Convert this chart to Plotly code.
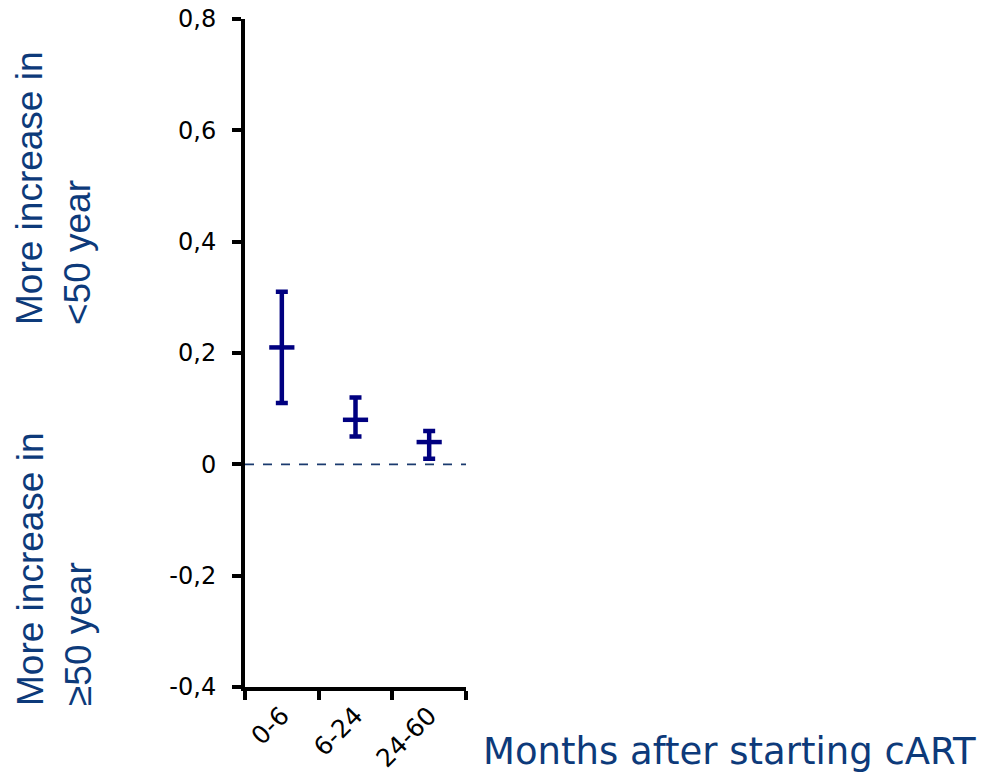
import plotly.graph_objects as go

categories = ["0-6", "6-24", "24-60"]
means = [0.21, 0.08, 0.04]
upper = [0.31, 0.12, 0.06]
lower = [0.11, 0.05, 0.01]
ytick_vals = [-0.4, -0.2, 0, 0.2, 0.4, 0.6, 0.8]
ytick_text = ["-0,4", "-0,2", "0", "0,2", "0,4", "0,6", "0,8"]

xpos = list(range(len(categories)))
err_plus = [u - m for u, m in zip(upper, means)]
err_minus = [m - l for m, l in zip(means, lower)]

NAVY = "#000080"
TITLE_BLUE = "#0d3a7a"

L, R, T, B = 245, 466, 19, 687
PW, PH = R - L, B - T

fig = go.Figure()
fig.add_trace(go.Scatter(
    x=xpos, y=means, mode="markers",
    marker=dict(symbol="line-ew", size=18, line=dict(width=4.5, color=NAVY), color=NAVY),
    error_y=dict(type="data", symmetric=False, array=err_plus, arrayminus=err_minus,
                 color=NAVY, thickness=4.5, width=6),
    showlegend=False, hoverinfo="skip",
))

fig.add_shape(type="line", xref="paper", x0=0, x1=1, yref="y", y0=0, y1=0,
              line=dict(color="#1a3a6e", width=1.8, dash="dash"), layer="below")

title_font = dict(family="Liberation Sans, Arial, sans-serif", size=37, color=TITLE_BLUE)

fig.update_layout(
    width=986, height=779,
    margin=dict(l=L, r=986 - R, t=T, b=779 - B),
    paper_bgcolor="white", plot_bgcolor="white",
    separators=", ",
    font=dict(family="DejaVu Sans", color="black"),
    xaxis=dict(
        range=[-0.5, 2.5], tickvals=xpos, ticktext=categories, tickangle=-45,
        ticks="", showgrid=False, zeroline=False, automargin=False,
        showline=True, linecolor="black", linewidth=4,
        tickfont=dict(family="DejaVu Sans", size=25, color="black"),
        minor=dict(tickvals=[-0.5, 0.5, 1.5, 2.5], ticks="outside", ticklen=9,
                   tickwidth=4, tickcolor="black", showgrid=False),
    ),
    yaxis=dict(
        range=[-0.4, 0.8], tickvals=ytick_vals, ticktext=ytick_text,
        ticks="outside", ticklen=9, tickwidth=4, tickcolor="black",
        showgrid=False, zeroline=False, automargin=False,
        showline=True, linecolor="black", linewidth=4, ticklabelstandoff=11,
        tickfont=dict(family="DejaVu Sans", size=24, color="black"),
    ),
    annotations=[
        dict(text="More increase in<br><50 year", xref="paper", yref="paper",
             x=(54 - L) / PW, y=(B - 188) / PH, xanchor="center", yanchor="middle",
             textangle=-90, showarrow=False, align="left", font=title_font),
        dict(text="More increase in<br>≥50 year", xref="paper", yref="paper",
             x=(54 - L) / PW, y=(B - 569) / PH, xanchor="center", yanchor="middle",
             textangle=-90, showarrow=False, align="left", font=title_font),
        dict(text="Months after starting cART", xref="paper", yref="paper",
             x=(481 - L) / PW, y=(B - 751) / PH, xanchor="left", yanchor="middle",
             showarrow=False,
             font=dict(family="DejaVu Sans", size=37, color=TITLE_BLUE)),
    ],
)

fig.write_html("out.html")
